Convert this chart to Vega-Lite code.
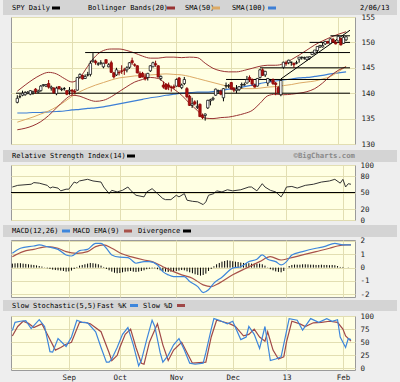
{
"$schema": "https://vega.github.io/schema/vega-lite/v6.json",
"background": "#eeeeee",
"padding": {"left": 3, "right": 3, "top": 0, "bottom": 2},
"autosize": {"type": "pad"},
"spacing": 0,
"bounds": "flush",
"config": {
  "font": "DejaVu Sans Mono",
  "view": {"stroke": null},
  "axis": {"labelFont": "DejaVu Sans Mono", "labelFontSize": 7.5, "labelColor": "#222222", "domain": false, "ticks": false, "gridColor": "#e2deb2", "gridWidth": 1, "title": null, "labelOverlap": false, "labelFlush": false, "labelBound": false, "tickCount": 20},
  "text": {"font": "DejaVu Sans Mono", "fontSize": 7, "color": "#000000", "align": "left", "baseline": "middle"}
},
"datasets": {
  "px": [
    {"i":0,"o":138.2,"h":139.6,"l":138.0,"c":139.0},{"i":1,"o":139.3,"h":139.8,"l":139.0,"c":139.3},{"i":2,"o":139.6,"h":140.5,"l":139.4,"c":140.0},{"i":3,"o":139.7,"h":140.4,"l":139.5,"c":140.1},{"i":4,"o":140.0,"h":140.4,"l":139.8,"c":140.2},{"i":5,"o":139.8,"h":140.6,"l":139.6,"c":140.5},{"i":6,"o":140.1,"h":140.5,"l":139.7,"c":140.3},{"i":7,"o":140.8,"h":141.0,"l":139.9,"c":140.3},{"i":8,"o":140.2,"h":140.7,"l":140.0,"c":140.4},{"i":9,"o":140.5,"h":141.6,"l":140.3,"c":141.4},
    {"i":10,"o":141.5,"h":141.8,"l":141.3,"c":141.7},{"i":11,"o":141.4,"h":141.8,"l":141.2,"c":141.7},{"i":12,"o":141.9,"h":142.6,"l":140.9,"c":141.2},{"i":13,"o":141.0,"h":141.5,"l":140.5,"c":141.2},{"i":14,"o":141.0,"h":141.2,"l":139.9,"c":140.1},{"i":15,"o":139.9,"h":141.3,"l":139.6,"c":141.0},{"i":16,"o":141.3,"h":141.4,"l":140.7,"c":140.9},{"i":17,"o":140.7,"h":141.1,"l":140.4,"c":140.8},{"i":18,"o":140.9,"h":141.2,"l":140.5,"c":140.9},{"i":19,"o":140.5,"h":140.6,"l":139.6,"c":139.8},
    {"i":20,"o":140.4,"h":141.2,"l":139.7,"c":140.6},{"i":21,"o":140.6,"h":140.8,"l":139.6,"c":140.4},{"i":22,"o":140.4,"h":140.8,"l":139.9,"c":140.2},{"i":23,"o":140.6,"h":143.2,"l":140.5,"c":143.1},{"i":24,"o":143.2,"h":143.9,"l":142.9,"c":143.7},{"i":25,"o":143.5,"h":143.6,"l":142.7,"c":142.8},{"i":26,"o":142.9,"h":143.7,"l":142.8,"c":143.3},{"i":27,"o":143.6,"h":144.2,"l":143.3,"c":143.6},{"i":28,"o":143.7,"h":146.4,"l":143.3,"c":145.9},{"i":29,"o":146.3,"h":147.9,"l":146.0,"c":146.5},
    {"i":30,"o":146.3,"h":146.6,"l":145.6,"c":146.0},{"i":31,"o":145.7,"h":146.1,"l":145.4,"c":145.8},{"i":32,"o":145.9,"h":146.5,"l":145.6,"c":146.0},{"i":33,"o":145.2,"h":146.0,"l":144.9,"c":145.9},{"i":34,"o":146.6,"h":146.7,"l":145.8,"c":145.9},{"i":35,"o":145.2,"h":145.9,"l":145.1,"c":145.6},{"i":36,"o":146.0,"h":146.4,"l":144.0,"c":144.1},{"i":37,"o":144.0,"h":144.2,"l":142.9,"c":143.2},{"i":38,"o":143.6,"h":145.0,"l":143.4,"c":144.6},{"i":39,"o":144.1,"h":144.5,"l":143.5,"c":144.0},
    {"i":40,"o":144.4,"h":145.5,"l":143.8,"c":144.3},{"i":41,"o":144.6,"h":145.0,"l":143.6,"c":144.5},{"i":42,"o":144.6,"h":145.3,"l":144.1,"c":145.0},{"i":43,"o":145.1,"h":146.1,"l":144.8,"c":146.0},{"i":44,"o":146.4,"h":147.0,"l":145.6,"c":146.0},{"i":45,"o":145.6,"h":145.9,"l":145.2,"c":145.5},{"i":46,"o":145.4,"h":145.5,"l":143.9,"c":144.0},{"i":47,"o":143.9,"h":144.3,"l":143.0,"c":143.1},{"i":48,"o":143.9,"h":144.2,"l":143.1,"c":143.2},{"i":49,"o":143.2,"h":143.9,"l":142.5,"c":142.8},
    {"i":50,"o":143.1,"h":144.0,"l":142.5,"c":143.9},{"i":51,"o":144.4,"h":145.5,"l":144.2,"c":145.4},{"i":52,"o":145.2,"h":146.2,"l":145.1,"c":146.0},{"i":53,"o":145.8,"h":146.4,"l":145.2,"c":145.6},{"i":54,"o":145.4,"h":145.5,"l":143.1,"c":143.2},{"i":55,"o":142.9,"h":143.5,"l":142.5,"c":143.3},{"i":56,"o":141.6,"h":142.3,"l":140.9,"c":141.2},{"i":57,"o":141.8,"h":141.9,"l":140.7,"c":140.8},{"i":58,"o":141.6,"h":142.1,"l":140.6,"c":141.2},{"i":59,"o":141.2,"h":141.5,"l":140.3,"c":141.1},
    {"i":60,"o":141.3,"h":141.7,"l":140.8,"c":141.1},{"i":61,"o":141.4,"h":142.9,"l":141.3,"c":142.7},{"i":62,"o":143.0,"h":143.2,"l":141.2,"c":141.3},{"i":63,"o":141.1,"h":141.9,"l":140.8,"c":141.6},{"i":64,"o":141.9,"h":143.2,"l":141.6,"c":142.7},{"i":65,"o":140.9,"h":141.2,"l":139.0,"c":139.3},{"i":66,"o":139.4,"h":139.7,"l":137.5,"c":137.6},{"i":67,"o":137.6,"h":139.1,"l":137.1,"c":137.9},{"i":68,"o":138.3,"h":138.6,"l":137.6,"c":137.9},{"i":69,"o":137.2,"h":138.6,"l":136.9,"c":137.4},
    {"i":70,"o":137.8,"h":138.0,"l":135.3,"c":135.4},{"i":71,"o":135.6,"h":136.0,"l":134.9,"c":135.2},{"i":72,"o":135.6,"h":136.0,"l":134.6,"c":135.9},{"i":73,"o":137.1,"h":138.7,"l":136.9,"c":138.6},{"i":74,"o":138.5,"h":138.9,"l":137.6,"c":138.7},{"i":75,"o":138.8,"h":139.3,"l":138.5,"c":139.0},{"i":76,"o":139.6,"h":140.9,"l":139.5,"c":140.8},{"i":77,"o":140.4,"h":140.7,"l":139.9,"c":140.5},{"i":78,"o":140.4,"h":140.7,"l":139.6,"c":139.8},{"i":79,"o":139.1,"h":141.0,"l":138.4,"c":140.9},
    {"i":80,"o":141.4,"h":142.1,"l":140.9,"c":141.5},{"i":81,"o":141.4,"h":141.8,"l":141.0,"c":141.5},{"i":82,"o":142.1,"h":142.2,"l":140.7,"c":140.8},{"i":83,"o":140.9,"h":141.2,"l":140.2,"c":140.6},{"i":84,"o":140.5,"h":141.6,"l":140.0,"c":140.8},{"i":85,"o":140.7,"h":141.4,"l":140.4,"c":141.3},{"i":86,"o":141.6,"h":142.1,"l":140.9,"c":141.7},{"i":87,"o":141.6,"h":142.1,"l":141.5,"c":141.7},{"i":88,"o":142.0,"h":143.4,"l":141.9,"c":142.7},{"i":89,"o":143.1,"h":143.5,"l":142.2,"c":142.7},
    {"i":90,"o":142.7,"h":142.9,"l":141.4,"c":141.8},{"i":91,"o":141.6,"h":141.9,"l":141.1,"c":141.2},{"i":92,"o":141.4,"h":143.0,"l":141.3,"c":142.9},{"i":93,"o":143.1,"h":144.8,"l":142.9,"c":144.6},{"i":94,"o":144.6,"h":144.9,"l":143.4,"c":143.5},{"i":95,"o":143.6,"h":144.4,"l":143.2,"c":144.3},{"i":96,"o":142.0,"h":143.0,"l":141.4,"c":142.9},{"i":97,"o":142.6,"h":142.8,"l":142.3,"c":142.6},{"i":98,"o":142.7,"h":142.9,"l":141.6,"c":141.9},{"i":99,"o":142.0,"h":142.2,"l":139.6,"c":141.7},
    {"i":100,"o":141.1,"h":141.4,"l":140.0,"c":140.1},{"i":101,"o":139.7,"h":142.6,"l":139.4,"c":142.5},{"i":102,"o":145.1,"h":146.2,"l":144.8,"c":146.1},{"i":103,"o":145.9,"h":146.4,"l":145.4,"c":145.8},{"i":104,"o":146.0,"h":146.6,"l":145.7,"c":146.5},{"i":105,"o":146.1,"h":146.2,"l":145.4,"c":146.1},{"i":106,"o":145.9,"h":146.0,"l":145.0,"c":145.6},{"i":107,"o":145.9,"h":146.4,"l":145.7,"c":146.0},{"i":108,"o":146.7,"h":147.1,"l":146.0,"c":147.1},{"i":109,"o":147.0,"h":147.2,"l":146.6,"c":147.1},
    {"i":110,"o":146.9,"h":147.2,"l":146.6,"c":147.0},{"i":111,"o":146.6,"h":147.2,"l":146.4,"c":147.1},{"i":112,"o":146.9,"h":147.2,"l":146.6,"c":147.2},{"i":113,"o":147.6,"h":148.2,"l":147.5,"c":148.0},{"i":114,"o":147.9,"h":148.5,"l":147.6,"c":148.5},{"i":115,"o":148.4,"h":149.2,"l":147.9,"c":149.2},{"i":116,"o":149.1,"h":149.5,"l":148.9,"c":149.4},{"i":117,"o":149.1,"h":149.9,"l":149.0,"c":149.4},{"i":118,"o":149.7,"h":150.3,"l":149.5,"c":150.2},{"i":119,"o":150.2,"h":150.3,"l":149.7,"c":149.9},
    {"i":120,"o":149.8,"h":150.8,"l":149.8,"c":150.7},{"i":121,"o":150.6,"h":150.9,"l":149.9,"c":150.1},{"i":122,"o":150.0,"h":150.3,"l":149.6,"c":149.7},{"i":123,"o":150.3,"h":151.4,"l":150.2,"c":151.2},{"i":124,"o":150.8,"h":150.9,"l":149.4,"c":149.5},{"i":125,"o":149.8,"h":151.3,"l":149.7,"c":151.0},{"i":126,"o":150.5,"h":151.2,"l":150.3,"c":151.1}
  ],
  "ov": [
    {"i":0,"bu":140.4,"bl":132.8,"s50":134.3,"s100":136.1},{"i":3,"bu":141.6,"bl":133.1,"s50":134.8,"s100":136.1},{"i":6,"bu":142.7,"bl":133.6,"s50":135.3,"s100":136.2},{"i":9,"bu":143.6,"bl":134.4,"s50":135.9,"s100":136.2},{"i":12,"bu":144.1,"bl":135.6,"s50":136.5,"s100":136.3},{"i":15,"bu":143.8,"bl":137.1,"s50":137.3,"s100":136.4},{"i":18,"bu":142.9,"bl":138.6,"s50":138.3,"s100":136.5},{"i":21,"bu":142.2,"bl":139.6,"s50":139.4,"s100":136.7},{"i":24,"bu":143.1,"bl":139.4,"s50":140.3,"s100":136.8},{"i":27,"bu":145.3,"bl":138.8,"s50":141.0,"s100":137.0},
    {"i":30,"bu":147.3,"bl":138.4,"s50":141.6,"s100":137.1},{"i":33,"bu":148.4,"bl":138.6,"s50":142.1,"s100":137.3},{"i":36,"bu":148.7,"bl":139.3,"s50":142.6,"s100":137.6},{"i":39,"bu":148.7,"bl":140.3,"s50":143.0,"s100":137.9},{"i":42,"bu":148.4,"bl":141.3,"s50":143.2,"s100":138.2},{"i":45,"bu":147.9,"bl":142.2,"s50":143.4,"s100":138.5},{"i":48,"bu":147.3,"bl":142.7,"s50":143.5,"s100":138.8},{"i":51,"bu":146.9,"bl":143.1,"s50":143.6,"s100":139.1},{"i":54,"bu":146.9,"bl":142.9,"s50":143.7,"s100":139.3},{"i":57,"bu":147.1,"bl":141.8,"s50":143.8,"s100":139.6},
    {"i":60,"bu":147.1,"bl":140.8,"s50":143.7,"s100":139.8},{"i":63,"bu":147.0,"bl":139.6,"s50":143.6,"s100":140.0},{"i":66,"bu":147.1,"bl":138.0,"s50":143.3,"s100":140.1},{"i":69,"bu":147.0,"bl":136.6,"s50":142.9,"s100":140.2},{"i":72,"bu":145.9,"bl":135.1,"s50":142.5,"s100":140.2},{"i":75,"bu":144.9,"bl":135.0,"s50":142.1,"s100":140.3},{"i":78,"bu":144.4,"bl":135.2,"s50":141.7,"s100":140.5},{"i":81,"bu":144.2,"bl":135.3,"s50":141.3,"s100":140.8},{"i":84,"bu":144.2,"bl":135.6,"s50":141.0,"s100":141.0},{"i":87,"bu":144.5,"bl":136.0,"s50":140.9,"s100":141.3},
    {"i":90,"bu":144.9,"bl":136.6,"s50":140.9,"s100":141.6},{"i":93,"bu":145.3,"bl":138.0,"s50":141.0,"s100":141.9},{"i":96,"bu":145.5,"bl":139.5,"s50":141.2,"s100":142.2},{"i":99,"bu":145.5,"bl":139.8,"s50":141.3,"s100":142.4},{"i":102,"bu":145.8,"bl":139.7,"s50":141.5,"s100":142.6},{"i":105,"bu":146.6,"bl":139.8,"s50":141.7,"s100":142.8},{"i":108,"bu":147.5,"bl":140.0,"s50":142.0,"s100":143.0},{"i":111,"bu":148.5,"bl":140.3,"s50":142.2,"s100":143.1},{"i":114,"bu":149.5,"bl":140.9,"s50":142.4,"s100":143.3},{"i":117,"bu":150.3,"bl":142.0,"s50":142.8,"s100":143.5},
    {"i":120,"bu":151.0,"bl":143.4,"s50":143.3,"s100":143.8},{"i":123,"bu":151.6,"bl":144.5,"s50":144.2,"s100":144.0},{"i":126,"bu":152.1,"bl":145.2,"s50":145.3,"s100":144.2}
  ],
  "tr": [
    {"x1":-0.5,"x2":127.5,"y1":140,"y2":140},{"x1":26,"x2":127.5,"y1":148,"y2":148},{"x1":93,"x2":127.5,"y1":145,"y2":145},{"x1":80,"x2":127.5,"y1":142.7,"y2":142.7},{"x1":112,"x2":127.5,"y1":150,"y2":150},{"x1":120,"x2":127.5,"y1":151.3,"y2":151.3},{"x1":101,"x2":127.5,"y1":142.8,"y2":152.4}
  ],
  "rsi": [
    {"i":0,"v":60},{"i":2,"v":63},{"i":7,"v":65},{"i":8,"v":68},{"i":10,"v":67},{"i":13,"v":63},{"i":14,"v":58},{"i":15,"v":60},{"i":17,"v":58},{"i":18,"v":53},{"i":20,"v":56},{"i":21,"v":56},{"i":23,"v":69},{"i":24,"v":67},{"i":25,"v":71},{"i":28,"v":74},{"i":30,"v":71},{"i":33,"v":69},{"i":34,"v":60},{"i":36,"v":48},{"i":37,"v":54},{"i":39,"v":51},{"i":41,"v":54},{"i":43,"v":60},{"i":44,"v":54},{"i":46,"v":45},{"i":49,"v":42},{"i":50,"v":51},{"i":52,"v":57},{"i":54,"v":48},{"i":56,"v":39},{"i":57,"v":37},{"i":59,"v":37},{"i":61,"v":45},{"i":62,"v":42},{"i":64,"v":48},{"i":65,"v":36},{"i":67,"v":34},{"i":69,"v":33},{"i":71,"v":28},{"i":72,"v":33},{"i":73,"v":45},{"i":75,"v":48},{"i":76,"v":53},{"i":78,"v":51},{"i":80,"v":55},{"i":82,"v":53},{"i":85,"v":55},{"i":88,"v":60},{"i":89,"v":60},{"i":91,"v":53},{"i":93,"v":66},{"i":94,"v":60},{"i":96,"v":54},{"i":98,"v":51},{"i":100,"v":42},{"i":101,"v":50},{"i":102,"v":60},{"i":104,"v":61},{"i":106,"v":58},{"i":109,"v":63},{"i":112,"v":65},{"i":115,"v":69},{"i":118,"v":71},{"i":120,"v":74},{"i":122,"v":67},{"i":123,"v":74},{"i":124,"v":60},{"i":125,"v":66},{"i":126,"v":65}
  ],
  "macd": [
    {"i":0,"v":1.07},{"i":3,"v":1.45},{"i":8,"v":1.62},{"i":10,"v":1.7},{"i":13,"v":1.57},{"i":17,"v":1.37},{"i":20,"v":0.95},{"i":22,"v":0.87},{"i":25,"v":1.27},{"i":28,"v":1.37},{"i":31,"v":1.82},{"i":33,"v":1.82},{"i":35,"v":1.45},{"i":37,"v":0.95},{"i":40,"v":0.78},{"i":43,"v":0.75},{"i":44,"v":0.63},{"i":46,"v":0.33},{"i":49,"v":0.45},{"i":51,"v":0.45},{"i":54,"v":0.2},{"i":56,"v":-0.3},{"i":58,"v":-0.54},{"i":60,"v":-0.67},{"i":64,"v":-0.67},{"i":66,"v":-1.04},{"i":69,"v":-1.42},{"i":71,"v":-1.87},{"i":73,"v":-1.66},{"i":75,"v":-1.16},{"i":78,"v":-0.72},{"i":82,"v":-0.04},{"i":85,"v":0.07},{"i":88,"v":0.45},{"i":91,"v":0.63},{"i":93,"v":0.95},{"i":95,"v":0.63},{"i":98,"v":0.45},{"i":100,"v":0.2},{"i":102,"v":0.45},{"i":104,"v":0.95},{"i":108,"v":1.2},{"i":113,"v":1.45},{"i":116,"v":1.57},{"i":120,"v":1.82},{"i":123,"v":1.7},{"i":126,"v":1.7}
  ],
  "sig": [
    {"i":0,"v":0.82},{"i":4,"v":1.2},{"i":8,"v":1.37},{"i":13,"v":1.57},{"i":17,"v":1.45},{"i":20,"v":1.2},{"i":24,"v":1.07},{"i":28,"v":1.2},{"i":31,"v":1.57},{"i":34,"v":1.7},{"i":37,"v":1.45},{"i":41,"v":1.02},{"i":44,"v":0.82},{"i":49,"v":0.57},{"i":52,"v":0.45},{"i":56,"v":0.07},{"i":60,"v":-0.3},{"i":63,"v":-0.54},{"i":67,"v":-0.79},{"i":71,"v":-1.29},{"i":74,"v":-1.42},{"i":77,"v":-1.16},{"i":82,"v":-0.54},{"i":87,"v":-0.04},{"i":92,"v":0.45},{"i":96,"v":0.82},{"i":100,"v":0.57},{"i":103,"v":0.7},{"i":108,"v":0.95},{"i":113,"v":1.2},{"i":118,"v":1.45},{"i":121,"v":1.62},{"i":124,"v":1.7},{"i":126,"v":1.7}
  ],
  "hist": [
    {"i":0,"v":0.3},{"i":1,"v":0.32},{"i":2,"v":0.33},{"i":3,"v":0.33},{"i":4,"v":0.3},{"i":5,"v":0.28},{"i":6,"v":0.25},{"i":7,"v":0.22},{"i":8,"v":0.2},{"i":9,"v":0.17},{"i":10,"v":0.12},{"i":11,"v":0.08},{"i":12,"v":0.02},
    {"i":13,"v":-0.05},{"i":14,"v":-0.1},{"i":15,"v":-0.15},{"i":16,"v":-0.18},{"i":17,"v":-0.2},{"i":18,"v":-0.22},{"i":19,"v":-0.25},{"i":20,"v":-0.3},{"i":21,"v":-0.28},{"i":22,"v":-0.22},{"i":23,"v":-0.1},{"i":24,"v":0.05},
    {"i":25,"v":0.15},{"i":26,"v":0.2},{"i":27,"v":0.25},{"i":28,"v":0.3},{"i":29,"v":0.35},{"i":30,"v":0.33},{"i":31,"v":0.3},{"i":32,"v":0.25},{"i":33,"v":0.15},{"i":34,"v":0.05},
    {"i":35,"v":-0.1},{"i":36,"v":-0.2},{"i":37,"v":-0.3},{"i":38,"v":-0.38},{"i":39,"v":-0.42},{"i":40,"v":-0.4},{"i":41,"v":-0.35},{"i":42,"v":-0.3},{"i":43,"v":-0.28},{"i":44,"v":-0.25},{"i":45,"v":-0.3},{"i":46,"v":-0.33},{"i":47,"v":-0.3},{"i":48,"v":-0.25},{"i":49,"v":-0.2},{"i":50,"v":-0.12},{"i":51,"v":-0.08},{"i":52,"v":-0.05},{"i":53,"v":-0.05},
    {"i":54,"v":-0.12},{"i":55,"v":-0.2},{"i":56,"v":-0.28},{"i":57,"v":-0.3},{"i":58,"v":-0.32},{"i":59,"v":-0.3},{"i":60,"v":-0.28},{"i":61,"v":-0.25},{"i":62,"v":-0.22},{"i":63,"v":-0.18},{"i":64,"v":-0.2},{"i":65,"v":-0.28},{"i":66,"v":-0.35},{"i":67,"v":-0.42},{"i":68,"v":-0.5},{"i":69,"v":-0.55},{"i":70,"v":-0.6},{"i":71,"v":-0.55},{"i":72,"v":-0.45},{"i":73,"v":-0.25},{"i":74,"v":-0.1},
    {"i":75,"v":0.1},{"i":76,"v":0.25},{"i":77,"v":0.35},{"i":78,"v":0.45},{"i":79,"v":0.5},{"i":80,"v":0.55},{"i":81,"v":0.52},{"i":82,"v":0.48},{"i":83,"v":0.45},{"i":84,"v":0.42},{"i":85,"v":0.38},{"i":86,"v":0.35},{"i":87,"v":0.35},{"i":88,"v":0.33},{"i":89,"v":0.3},{"i":90,"v":0.3},{"i":91,"v":0.28},{"i":92,"v":0.3},{"i":93,"v":0.25},{"i":94,"v":0.15},{"i":95,"v":0.02},
    {"i":96,"v":-0.12},{"i":97,"v":-0.2},{"i":98,"v":-0.28},{"i":99,"v":-0.32},{"i":100,"v":-0.35},{"i":101,"v":-0.25},{"i":102,"v":0.0},
    {"i":103,"v":0.12},{"i":104,"v":0.2},{"i":105,"v":0.23},{"i":106,"v":0.22},{"i":107,"v":0.22},{"i":108,"v":0.25},{"i":109,"v":0.25},{"i":110,"v":0.24},{"i":111,"v":0.22},{"i":112,"v":0.22},{"i":113,"v":0.2},{"i":114,"v":0.2},{"i":115,"v":0.22},{"i":116,"v":0.2},{"i":117,"v":0.2},{"i":118,"v":0.18},{"i":119,"v":0.2},{"i":120,"v":0.18},{"i":121,"v":0.12},{"i":122,"v":0.05},{"i":123,"v":0.05},{"i":124,"v":0.0},{"i":125,"v":-0.02},{"i":126,"v":0.0}
  ],
  "k": [
    {"i":0,"v":72},{"i":1,"v":88},{"i":3,"v":90},{"i":5,"v":91},{"i":7,"v":76},{"i":10,"v":93},{"i":12,"v":80},{"i":14,"v":32},{"i":15,"v":31},{"i":17,"v":57},{"i":20,"v":42},{"i":22,"v":60},{"i":24,"v":92},{"i":26,"v":88},{"i":28,"v":87},{"i":31,"v":70},{"i":33,"v":40},{"i":35,"v":12},{"i":36,"v":12},{"i":37,"v":18},{"i":39,"v":40},{"i":41,"v":65},{"i":43,"v":78},{"i":45,"v":45},{"i":47,"v":5},{"i":48,"v":15},{"i":50,"v":55},{"i":52,"v":92},{"i":53,"v":80},{"i":55,"v":30},{"i":56,"v":12},{"i":58,"v":25},{"i":60,"v":45},{"i":62,"v":57},{"i":64,"v":35},{"i":66,"v":10},{"i":68,"v":8},{"i":71,"v":10},{"i":72,"v":30},{"i":74,"v":75},{"i":75,"v":95},{"i":77,"v":92},{"i":80,"v":85},{"i":82,"v":90},{"i":85,"v":55},{"i":87,"v":60},{"i":88,"v":80},{"i":90,"v":65},{"i":92,"v":38},{"i":94,"v":80},{"i":96,"v":15},{"i":98,"v":18},{"i":100,"v":22},{"i":103,"v":95},{"i":106,"v":92},{"i":108,"v":73},{"i":111,"v":95},{"i":114,"v":88},{"i":117,"v":95},{"i":119,"v":90},{"i":121,"v":93},{"i":122,"v":60},{"i":124,"v":40},{"i":125,"v":57},{"i":126,"v":55}
  ],
  "d": [
    {"i":0,"v":62},{"i":2,"v":80},{"i":4,"v":90},{"i":6,"v":86},{"i":8,"v":78},{"i":11,"v":85},{"i":13,"v":65},{"i":16,"v":35},{"i":18,"v":40},{"i":20,"v":46},{"i":22,"v":50},{"i":25,"v":88},{"i":27,"v":88},{"i":29,"v":85},{"i":33,"v":70},{"i":36,"v":30},{"i":37,"v":15},{"i":39,"v":25},{"i":40,"v":40},{"i":42,"v":65},{"i":44,"v":75},{"i":46,"v":40},{"i":48,"v":10},{"i":49,"v":8},{"i":51,"v":50},{"i":54,"v":85},{"i":56,"v":45},{"i":58,"v":15},{"i":60,"v":35},{"i":63,"v":50},{"i":65,"v":30},{"i":67,"v":10},{"i":72,"v":12},{"i":74,"v":60},{"i":76,"v":92},{"i":79,"v":88},{"i":81,"v":85},{"i":83,"v":80},{"i":86,"v":62},{"i":88,"v":65},{"i":90,"v":75},{"i":92,"v":60},{"i":94,"v":52},{"i":95,"v":70},{"i":97,"v":35},{"i":99,"v":18},{"i":101,"v":22},{"i":102,"v":50},{"i":104,"v":90},{"i":107,"v":85},{"i":109,"v":80},{"i":112,"v":87},{"i":115,"v":88},{"i":118,"v":90},{"i":121,"v":88},{"i":123,"v":75},{"i":124,"v":62},{"i":126,"v":52}
  ]
},
"vconcat": [
  {
    "width": 386, "height": 17,
    "data": {"values": [{}]},
    "layer": [
      {"mark": {"type": "rect", "color": "#d4d4d4", "clip": false}, "encoding": {"x": {"value": -8}, "x2": {"value": 386}, "y": {"value": 0}, "y2": {"value": 15}}},
      {"mark": {"type": "text", "text": "SPY Daily"}, "encoding": {"x": {"value": 1}, "y": {"value": 8}}},
      {"mark": {"type": "rect", "color": "#000000"}, "encoding": {"x": {"value": 41}, "x2": {"value": 49}, "y": {"value": 6.5}, "y2": {"value": 9.5}}},
      {"mark": {"type": "text", "text": "Bollinger Bands(20)"}, "encoding": {"x": {"value": 77}, "y": {"value": 8}}},
      {"mark": {"type": "rect", "color": "#993333"}, "encoding": {"x": {"value": 156}, "x2": {"value": 164}, "y": {"value": 6.5}, "y2": {"value": 9.5}}},
      {"mark": {"type": "text", "text": "SMA(50)"}, "encoding": {"x": {"value": 174}, "y": {"value": 8}}},
      {"mark": {"type": "rect", "color": "#dcaa66"}, "encoding": {"x": {"value": 201}, "x2": {"value": 209}, "y": {"value": 6.5}, "y2": {"value": 9.5}}},
      {"mark": {"type": "text", "text": "SMA(100)"}, "encoding": {"x": {"value": 221}, "y": {"value": 8}}},
      {"mark": {"type": "rect", "color": "#3d7fd6"}, "encoding": {"x": {"value": 257}, "x2": {"value": 265}, "y": {"value": 6.5}, "y2": {"value": 9.5}}},
      {"mark": {"type": "text", "text": "2/06/13"}, "encoding": {"x": {"value": 349}, "y": {"value": 8}}}
    ]
  },
  {
    "width": 344, "height": 127,
    "view": {"fill": "#ffffe3", "stroke": "#9a9a9a"},
    "layer": [
      {
        "data": {"name": "ov"},
        "mark": {"type": "line", "color": "#3d7fd6", "strokeWidth": 1.2, "interpolate": "monotone"},
        "encoding": {
          "x": {"field": "i", "type": "quantitative", "scale": {"domain": [-0.5, 127.5], "nice": false, "zero": false}, "axis": {"values": [21, 40, 61, 82, 102, 123], "tickCount": 20, "grid": true, "labels": false}},
          "y": {"field": "s100", "type": "quantitative", "scale": {"domain": [130, 155], "nice": false, "zero": false}, "axis": {"orient": "right", "values": [130, 135, 140, 145, 150, 155], "tickCount": 20, "grid": true, "labelPadding": 6}}
        }
      },
      {"data": {"name": "ov"}, "mark": {"type": "line", "color": "#dcaa66", "strokeWidth": 1, "interpolate": "monotone"}, "encoding": {"x": {"field": "i", "type": "quantitative"}, "y": {"field": "s50", "type": "quantitative"}}},
      {"data": {"name": "ov"}, "mark": {"type": "line", "color": "#993333", "strokeWidth": 1, "interpolate": "monotone"}, "encoding": {"x": {"field": "i", "type": "quantitative"}, "y": {"field": "bu", "type": "quantitative"}}},
      {"data": {"name": "ov"}, "mark": {"type": "line", "color": "#993333", "strokeWidth": 1, "interpolate": "monotone"}, "encoding": {"x": {"field": "i", "type": "quantitative"}, "y": {"field": "bl", "type": "quantitative"}}},
      {"data": {"name": "tr"}, "mark": {"type": "rule", "color": "#000000", "strokeWidth": 1}, "encoding": {"x": {"field": "x1", "type": "quantitative"}, "x2": {"field": "x2"}, "y": {"field": "y1", "type": "quantitative"}, "y2": {"field": "y2"}}},
      {"data": {"name": "px"}, "mark": {"type": "rule", "strokeWidth": 1}, "encoding": {"x": {"field": "i", "type": "quantitative"}, "y": {"field": "l", "type": "quantitative"}, "y2": {"field": "h"}, "color": {"condition": {"test": "datum.c >= datum.o", "value": "#000000"}, "value": "#880000"}}},
      {"data": {"name": "px"}, "mark": {"type": "bar", "size": 2.4, "strokeWidth": 0.7}, "encoding": {"x": {"field": "i", "type": "quantitative"}, "y": {"field": "o", "type": "quantitative"}, "y2": {"field": "c"}, "fill": {"condition": {"test": "datum.c >= datum.o", "value": "#ffffff"}, "value": "#aa1111"}, "stroke": {"condition": {"test": "datum.c >= datum.o", "value": "#000000"}, "value": "#880000"}}}
    ]
  },
  {
    "width": 386, "height": 21,
    "data": {"values": [{}]},
    "layer": [
      {"mark": {"type": "rect", "color": "#d4d4d4", "clip": false}, "encoding": {"x": {"value": -8}, "x2": {"value": 386}, "y": {"value": 6}, "y2": {"value": 18}}},
      {"mark": {"type": "text", "text": "Relative Strength Index(14)"}, "encoding": {"x": {"value": 1}, "y": {"value": 12}}},
      {"mark": {"type": "rect", "color": "#000000"}, "encoding": {"x": {"value": 116}, "x2": {"value": 124}, "y": {"value": 10.5}, "y2": {"value": 13.5}}},
      {"mark": {"type": "text", "text": "©BigCharts.com", "align": "right", "fontWeight": "bold", "color": "#8a8a8a", "fontSize": 7.3}, "encoding": {"x": {"value": 344}, "y": {"value": 12}}}
    ]
  },
  {
    "width": 344, "height": 55,
    "view": {"fill": "#ffffe3", "stroke": "#9a9a9a"},
    "data": {"name": "rsi"},
    "layer": [
      {
        "mark": {"type": "line", "color": "#333333", "strokeWidth": 1},
        "encoding": {
          "x": {"field": "i", "type": "quantitative", "scale": {"domain": [-0.5, 127.5], "nice": false, "zero": false}, "axis": {"values": [21, 40, 61, 82, 102, 123], "tickCount": 20, "grid": true, "labels": false}},
          "y": {"field": "v", "type": "quantitative", "scale": {"domain": [0, 100], "nice": false, "zero": false}, "axis": {"orient": "right", "values": [0, 20, 50, 80, 100], "tickCount": 20, "grid": true, "labelPadding": 5}}
        }
      },
      {"mark": {"type": "rule", "color": "#000000", "strokeWidth": 1}, "encoding": {"y": {"datum": 50}}}
    ]
  },
  {
    "width": 386, "height": 20,
    "data": {"values": [{}]},
    "layer": [
      {"mark": {"type": "rect", "color": "#d4d4d4", "clip": false}, "encoding": {"x": {"value": -8}, "x2": {"value": 386}, "y": {"value": 5}, "y2": {"value": 17}}},
      {"mark": {"type": "text", "text": "MACD(12,26)"}, "encoding": {"x": {"value": 1}, "y": {"value": 11}}},
      {"mark": {"type": "rect", "color": "#3d86dc"}, "encoding": {"x": {"value": 51}, "x2": {"value": 59}, "y": {"value": 9.5}, "y2": {"value": 12.5}}},
      {"mark": {"type": "text", "text": "MACD EMA(9)"}, "encoding": {"x": {"value": 62}, "y": {"value": 11}}},
      {"mark": {"type": "rect", "color": "#a8524a"}, "encoding": {"x": {"value": 113}, "x2": {"value": 121}, "y": {"value": 9.5}, "y2": {"value": 12.5}}},
      {"mark": {"type": "text", "text": "Divergence"}, "encoding": {"x": {"value": 127}, "y": {"value": 11}}},
      {"mark": {"type": "rect", "color": "#000000"}, "encoding": {"x": {"value": 172}, "x2": {"value": 180}, "y": {"value": 9.5}, "y2": {"value": 12.5}}}
    ]
  },
  {
    "width": 344, "height": 57,
    "view": {"fill": "#ffffe3", "stroke": "#9a9a9a"},
    "layer": [
      {
        "data": {"name": "hist"},
        "mark": {"type": "rule", "color": "#000000", "strokeWidth": 1},
        "encoding": {
          "x": {"field": "i", "type": "quantitative", "scale": {"domain": [-0.5, 127.5], "nice": false, "zero": false}, "axis": {"values": [21, 40, 61, 82, 102, 123], "tickCount": 20, "grid": true, "labels": false}},
          "y": {"field": "v", "type": "quantitative", "scale": {"domain": [-2.2, 2.07], "nice": false, "zero": false}, "axis": {"orient": "right", "values": [-2, -1, 0, 1, 2], "tickCount": 20, "grid": true, "labelPadding": 5, "labelExpr": "'' + datum.value"}},
          "y2": {"datum": 0}
        }
      },
      {"mark": {"type": "rule", "color": "#000000", "strokeWidth": 1}, "encoding": {"y": {"datum": 0}}},
      {"data": {"name": "sig"}, "mark": {"type": "line", "color": "#a8524a", "strokeWidth": 1.2, "interpolate": "monotone"}, "encoding": {"x": {"field": "i", "type": "quantitative"}, "y": {"field": "v", "type": "quantitative"}}},
      {"data": {"name": "macd"}, "mark": {"type": "line", "color": "#3d86dc", "strokeWidth": 1.2, "interpolate": "monotone"}, "encoding": {"x": {"field": "i", "type": "quantitative"}, "y": {"field": "v", "type": "quantitative"}}}
    ]
  },
  {
    "width": 386, "height": 19,
    "data": {"values": [{}]},
    "layer": [
      {"mark": {"type": "rect", "color": "#d4d4d4", "clip": false}, "encoding": {"x": {"value": -8}, "x2": {"value": 386}, "y": {"value": 3}, "y2": {"value": 14}}},
      {"mark": {"type": "text", "text": "Slow Stochastic(5,5)"}, "encoding": {"x": {"value": 1}, "y": {"value": 8.5}}},
      {"mark": {"type": "text", "text": "Fast %K"}, "encoding": {"x": {"value": 86}, "y": {"value": 8.5}}},
      {"mark": {"type": "rect", "color": "#3d86dc"}, "encoding": {"x": {"value": 119}, "x2": {"value": 127}, "y": {"value": 7}, "y2": {"value": 10}}},
      {"mark": {"type": "text", "text": "Slow %D"}, "encoding": {"x": {"value": 132}, "y": {"value": 8.5}}},
      {"mark": {"type": "rect", "color": "#a04848"}, "encoding": {"x": {"value": 166}, "x2": {"value": 174}, "y": {"value": 7}, "y2": {"value": 10}}}
    ]
  },
  {
    "width": 344, "height": 54,
    "view": {"fill": "#ffffe3", "stroke": "#9a9a9a"},
    "layer": [
      {
        "data": {"name": "d"},
        "mark": {"type": "line", "color": "#a04848", "strokeWidth": 1.2},
        "encoding": {
          "x": {"field": "i", "type": "quantitative", "scale": {"domain": [-0.5, 127.5], "nice": false, "zero": false}, "axis": {"values": [21, 40, 61, 82, 102, 123], "tickCount": 20, "grid": true, "labelPadding": 3, "labelExpr": "datum.value == 21 ? 'Sep' : datum.value == 40 ? 'Oct' : datum.value == 61 ? 'Nov' : datum.value == 82 ? 'Dec' : datum.value == 102 ? '13' : 'Feb'"}},
          "y": {"field": "v", "type": "quantitative", "scale": {"domain": [-3, 100], "nice": false, "zero": false}, "axis": {"orient": "right", "values": [0, 25, 50, 75, 100], "tickCount": 20, "grid": true, "labelPadding": 5}}
        }
      },
      {"data": {"name": "k"}, "mark": {"type": "line", "color": "#3d86dc", "strokeWidth": 1.2}, "encoding": {"x": {"field": "i", "type": "quantitative"}, "y": {"field": "v", "type": "quantitative"}}}
    ]
  }
]
}
